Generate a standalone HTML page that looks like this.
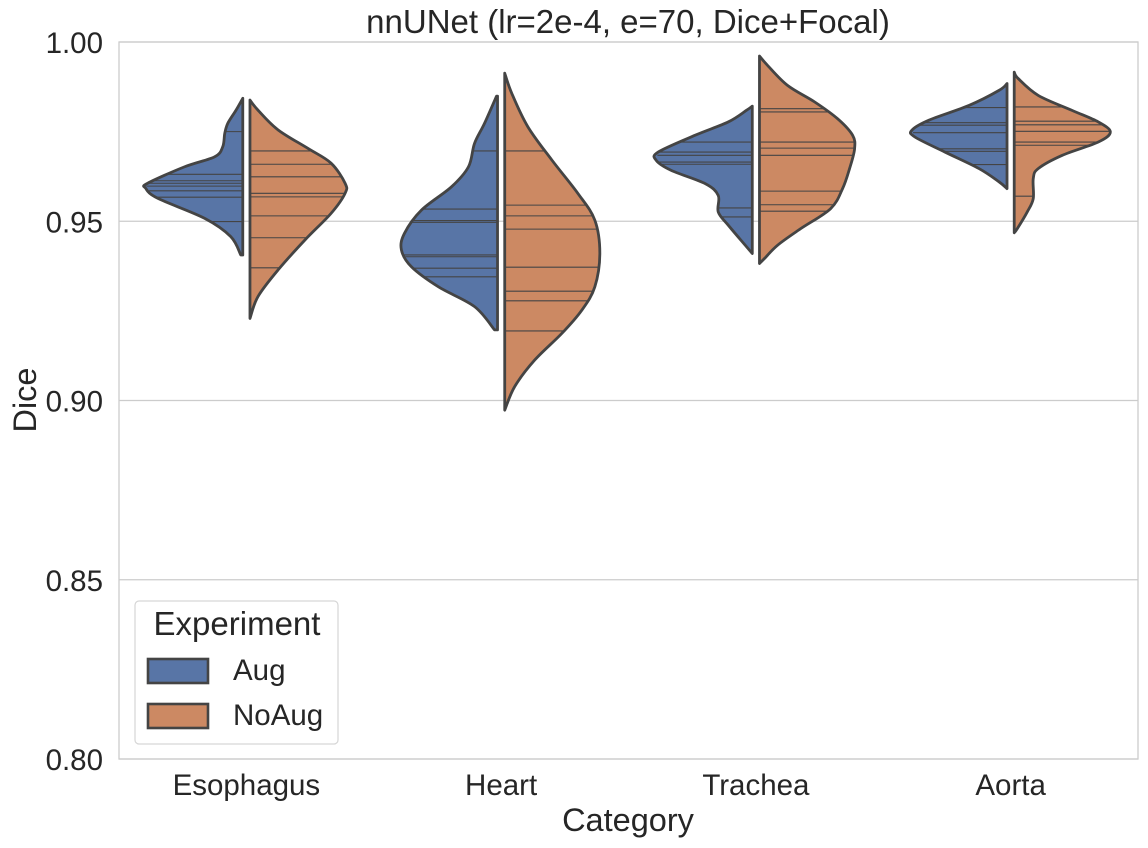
<!DOCTYPE html>
<html><head><meta charset="utf-8"><style>
body{margin:0;background:#fff;}
svg{display:block;font-family:"Liberation Sans",Arial,sans-serif;}
</style></head><body>
<svg id="chart" width="1148" height="848">
<rect x="0" y="0" width="1148" height="848" fill="#fff"/>
<g id="grid"></g>
<g id="plot"></g>
<rect x="119" y="42" width="1019" height="717" fill="none" stroke="#cccccc" stroke-width="1.3"/>
<g id="yticks"></g>
<g id="xticks"></g>
<text x="628" y="33" font-size="33" text-anchor="middle" fill="#262626">nnUNet (lr=2e-4, e=70, Dice+Focal)</text>
<text x="628" y="831" font-size="32.5" text-anchor="middle" fill="#262626">Category</text>
<text transform="translate(36,400) rotate(-90)" font-size="32.5" text-anchor="middle" fill="#262626">Dice</text>
<g>
<rect x="135" y="601" width="203" height="143" rx="4" fill="#fff" stroke="#d6d6d6" stroke-width="1.2"/>
<text x="237" y="635" font-size="33" text-anchor="middle" fill="#262626">Experiment</text>
<g>
<rect x="148" y="659" width="60" height="24" fill="#5875a6" stroke="#444" stroke-width="2.6"/>
<text x="233" y="680" font-size="29.5" fill="#262626">Aug</text></g>
<g>
<rect x="148" y="704" width="60" height="24" fill="#cc8963" stroke="#444" stroke-width="2.6"/>
<text x="233" y="725" font-size="29.5" fill="#262626">NoAug</text></g>
</g>
</svg>
<script>
const categories = ["Esophagus","Heart","Trachea","Aorta"];
const yTicks = [0.80,0.85,0.90,0.95,1.00];
const yTickLabels = ["0.80","0.85","0.90","0.95","1.00"];
// density profiles: [dice, relative half-width]
const augProfiles = [
 [[.9843,0],[.9810,.067],[.9773,.15],[.9745,.18],[.9708,.20],[.9680,.28],[.9652,.58],[.9606,.95],[.9592,.97],[.9564,.85],[.9508,.38],[.9457,.12],[.9406,.02]],
 [[.9849,.01],[.9773,.13],[.9717,.23],[.9652,.29],[.9596,.46],[.9531,.76],[.9466,.93],[.9420,.96],[.9373,.86],[.9317,.59],[.9262,.23],[.9197,.03]],
 [[.9821,0],[.9809,.06],[.9777,.24],[.9740,.57],[.9693,.94],[.9670,.96],[.9642,.81],[.9605,.47],[.9572,.34],[.9526,.34],[.9489,.24],[.9433,.07],[.9410,0]],
 [[.9884,0],[.9865,.08],[.9823,.38],[.9782,.78],[.9754,.95],[.9735,.92],[.9693,.62],[.9647,.28],[.9610,.08],[.9591,0]]
];
const noAugProfiles = [
 [[.9838,0],[.9810,.08],[.9755,.28],[.9703,.58],[.9662,.81],[.9606,.95],[.9578,.95],[.9522,.81],[.9448,.55],[.9364,.28],[.9290,.08],[.9229,0]],
 [[.9913,0],[.9857,.07],[.9764,.23],[.9671,.47],[.9578,.73],[.9503,.90],[.9411,.95],[.9317,.90],[.9252,.77],[.9187,.57],[.9113,.30],[.9039,.10],[.8973,0]],
 [[.9961,0],[.9935,.08],[.9879,.28],[.9833,.55],[.9786,.78],[.9740,.93],[.9702,.95],[.9647,.90],[.9591,.83],[.9535,.71],[.9479,.41],[.9433,.18],[.9396,.05],[.9382,0]],
 [[.9916,0],[.9898,.04],[.9851,.24],[.9809,.58],[.9777,.84],[.9749,.96],[.9721,.84],[.9684,.48],[.9647,.24],[.9619,.19],[.9563,.19],[.9526,.13],[.9479,.03],[.9468,0]]
];
// observations (stick lines)
const augValues = [
 [.9750,.9631,.9613,.9606,.9598,.9585,.9567,.9499],
 [.9696,.9534,.9502,.9497,.9406,.9401,.9369,.9345],
 [.9721,.9693,.9684,.9665,.9659,.9537,.9512],
 [.9817,.9775,.9768,.9747,.9702,.9695,.9658]
];
const noAugValues = [
 [.9696,.9659,.9624,.9578,.9568,.9515,.9454,.9370],
 [.9696,.9545,.9515,.9478,.9372,.9305,.9278,.9194],
 [.9814,.9805,.9721,.9704,.9684,.9584,.9546,.9528],
 [.9819,.9779,.9769,.9751,.9721,.9712,.9570]
];
const NS="http://www.w3.org/2000/svg";
const X0=119,X1=1138,Y0=42,Y1=759;
const yScale=v=>Y1-(v-0.80)/(1.00-0.80)*(Y1-Y0);
const band=(X1-X0)/categories.length;
const xCenter=i=>X0+band*(i+0.5);
const maxHalf=band*0.393, gap=3.6;
function mk(tag,attrs,parent){const e=document.createElementNS(NS,tag);for(const k in attrs)e.setAttribute(k,attrs[k]);parent.appendChild(e);return e;}
const grid=document.getElementById('grid'),plot=document.getElementById('plot');
const yt=document.getElementById('yticks'),xt=document.getElementById('xticks');
yTicks.forEach((t,i)=>{
 const l=mk('line',{x1:X0,x2:X1,y1:yScale(t),y2:yScale(t),stroke:'#cccccc','stroke-width':1.3},grid);
 
 
 const tx=mk('text',{x:103,y:yScale(t)+11,'font-size':29.5,'text-anchor':'end',fill:'#262626'},yt);
 tx.textContent=yTickLabels[i];
 
 
});
categories.forEach((c,i)=>{
 const tx=mk('text',{x:xCenter(i),y:795,'font-size':29.5,'text-anchor':'middle',fill:'#262626'},xt);
 tx.textContent=c;
 
 
});
function widthAt(prof,v){
 for(let k=0;k<prof.length-1;k++){const a=prof[k],b=prof[k+1];
  if(v<=a[0]&&v>=b[0]){const t=(a[0]-v)/(a[0]-b[0]);return a[1]+(b[1]-a[1])*t;}}
 return 0;
}
function halfPath(prof,edge,dir){
 const pts=prof.map(p=>[edge+dir*p[1]*maxHalf,yScale(p[0])]);
 let d=`M${edge},${pts[0][1]} L${pts[0][0]},${pts[0][1]}`;
 for(let k=0;k<pts.length-1;k++){
  const p0=pts[Math.max(k-1,0)],p1=pts[k],p2=pts[k+1],p3=pts[Math.min(k+2,pts.length-1)];
  const c1=[p1[0]+(p2[0]-p0[0])/6,p1[1]+(p2[1]-p0[1])/6],c2=[p2[0]-(p3[0]-p1[0])/6,p2[1]-(p3[1]-p1[1])/6];
  d+=` C${c1[0]},${c1[1]} ${c2[0]},${c2[1]} ${p2[0]},${p2[1]}`;
 }
 d+=` L${edge},${pts[pts.length-1][1]} Z`;
 return d;
}
function drawHalf(i,prof,vals,dir,color,name){
 const edge=xCenter(i)+dir*gap;
 const g=mk('g',{},plot);
 
 
 mk('path',{d:halfPath(prof,edge,dir),fill:color,stroke:'none'},g);
 vals.forEach(v=>{
  const w=widthAt(prof,v)*maxHalf;
  const s=mk('line',{x1:edge,x2:edge+dir*w,y1:yScale(v),y2:yScale(v),stroke:'#444','stroke-width':1.1},g);
  
  
 });
 mk('path',{d:halfPath(prof,edge,dir),fill:'none',stroke:'#444','stroke-width':2.8,'stroke-linejoin':'round'},g);
}
categories.forEach((c,i)=>{
 drawHalf(i,augProfiles[i],augValues[i],-1,'#5875a6','violin-aug-'+c.toLowerCase());
 drawHalf(i,noAugProfiles[i],noAugValues[i],1,'#cc8963','violin-noaug-'+c.toLowerCase());
});
</script>
</body></html>
